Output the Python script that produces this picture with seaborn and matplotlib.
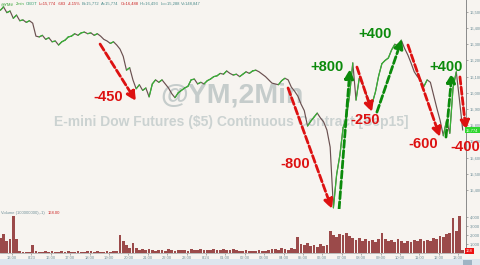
import numpy as np
import pandas as pd
import matplotlib
matplotlib.use("Agg")
import matplotlib.pyplot as plt
import seaborn as sns

# ---------------- data ----------------
start_hour = -0.6          # first bar, hours relative to the first "13:00" label
step_hour = 1 / 6          # 10-minute sampling of the 2-min chart

price = [16510, 16530, 16495, 16505, 16460, 16480, 16445, 16450, 16435, 16445,
         16430, 16350, 16345, 16355, 16330, 16340, 16315, 16320, 16295, 16315,
         16325, 16345, 16350, 16365, 16355, 16370, 16375, 16365, 16370, 16355,
         16365, 16350, 16330, 16320, 16305, 16315, 16295, 16270, 16225, 16140,
         16155, 16080, 16025, 16050, 16015, 16030, 15975, 16055, 16080, 16065,
         16080, 16055, 16030, 15995, 15970, 16000, 16015, 16030, 16040, 16080,
         16085, 16055, 16065, 16055, 16075, 16085, 16100, 16105, 16120, 16115,
         16135, 16120, 16110, 16115, 16100, 16115, 16130, 16120, 16135, 16140,
         16130, 16115, 16100, 16080, 16060, 16055, 16050, 16075, 16090, 16080,
         16035, 16010, 15980, 15930, 15890, 15795, 15825, 15850, 15875, 15845,
         15820, 15770, 15665, 15290, 15495, 15615, 15785, 15845, 15985, 16185,
         15955, 16090, 16055, 16000, 15955, 15935, 16005, 16105, 16180, 16200,
         16215, 16265, 16300, 16290, 16325, 16275, 16235, 16185, 16130, 16100,
         16080, 16040, 16080, 16065, 15985, 15905, 15830, 15735, 15830, 15750,
         16030, 16130, 15955, 15770]

volume = [1650, 2100, 1300, 1550, 4050, 1550, 200, 120, 100, 110,
          880, 220,
          150, 120, 180, 140, 200, 160, 130, 170, 150, 190, 120, 140, 250,
          160, 130, 180, 210, 150, 170, 140, 160, 200, 150, 180, 230,
          2000, 1300, 900, 550, 1100, 550, 330, 440, 300, 400,
          300, 250, 350, 280, 220, 400, 320, 260, 300, 350, 280, 250, 400,
          330, 300, 450, 380, 300, 350, 420, 300, 380, 450, 350, 300, 400, 320,
          250, 200, 300, 180, 220, 260, 300, 200, 250, 350,
          400, 450, 350, 500, 420, 380, 550, 480,
          1750, 1000, 880, 1100, 770, 880, 660, 1000, 770, 880,
          2400, 2000, 1750, 2100, 2000, 2200, 1850, 1650, 1450, 1650,
          1300, 1550, 1300, 1450, 1200, 1550, 2200, 1550, 1300, 1450,
          1200, 1550, 1300, 1100, 1300, 1200, 1450, 1300, 1550, 1300,
          1450, 1300, 1650, 1550, 1850, 1750, 2100, 2200, 3850, 2400,
          4050, 330]

time_labels = ["13:00", "8/23", "16:00", "17:00", "18:00", "19:00", "20:00",
               "21:00", "22:00", "23:00", "8/24", "01:00", "02:00", "03:00",
               "04:00", "05:00", "06:00", "07:00", "08:00", "09:00", "10:00",
               "11:00", "12:00", "13:00"]
price_ticks = [15400, 15500, 15600, 15700, 15800, 15900, 16000, 16100,
               16200, 16300, 16400, 16500]
volume_ticks = [1000, 2000, 3000, 4000]

# swing annotations: label, start (hour, price), end (hour, price), label pos
swing_labels = ["-450", "-800", "+800", "-250", "+400", "-600", "+400", "-400"]
swing_start = [(4.54, 16301), (14.23, 16030), (16.86, 15283), (17.78, 16159),
               (18.81, 15881), (20.41, 16295), (22.37, 15727), (23.09, 16098)]
swing_end = [(6.39, 15949), (16.49, 15283), (17.42, 16147), (18.56, 15881),
             (20.10, 16332), (22.06, 15727), (22.68, 16122), (23.40, 15770)]
swing_text = [(4.95, 15974), (14.59, 15560), (16.24, 16159), (18.20, 15832),
              (18.71, 16363), (21.19, 15684), (22.37, 16159), (23.35, 15665)]

header = [("@YM#", "#1f9a1f"), ("2min", "#2aa02a"), ("CBOT", "#2a9a6a"),
          ("L=15,774", "#cc2222"), ("-683", "#cc2222"), ("-4.15%", "#cc2222"),
          ("B=15,772", "#4a8a8a"), ("A=15,774", "#4a8a8a"), ("O=16,488", "#cc2222"),
          ("Hi=16,493", "#4a8a8a"), ("Lo=15,288", "#4a8a8a"), ("V=148,847", "#4a8a8a")]

# ---------------- style ----------------
sns.set_theme(style="white")
plt.rcParams["font.family"] = ["Liberation Sans", "DejaVu Sans"]

BG = "#f7f4f0"
UP = "#35b535"
DOWN = "#6a5050"
VOL = "#9b4a4a"
AXC = "#8a8a8a"
TICKC = "#6f8f99"

W, H = 480, 265
fig = plt.figure(figsize=(W / 100, H / 100), dpi=100, facecolor=BG)

def frac(x0, y0, x1, y1):
    return [x0 / W, 1 - y1 / H, (x1 - x0) / W, (y1 - y0) / H]

ax = fig.add_axes(frac(0, 0, 466, 209), facecolor=BG)
axv = fig.add_axes(frac(0, 209, 466, 253), facecolor=BG, sharex=ax)

n = len(price)
hours = start_hour + np.arange(n) * step_hour
df = pd.DataFrame({"hour": hours, "price": price, "volume": volume})

# price line: down colour base, green up-segments on top
sns.lineplot(data=df, x="hour", y="price", ax=ax, color=DOWN, lw=0.85, zorder=3)
for i in range(n - 1):
    if df.price[i + 1] > df.price[i]:
        ax.plot(df.hour[i:i + 2], df.price[i:i + 2], color=UP, lw=0.85, zorder=4)

ax.set_xlim(-12 / 19.4, (466 - 12) / 19.4)
ax.set_ylim(15283, 16573)

# watermark / title
ax.text(0.497, 0.541, "@YM,2Min", transform=ax.transAxes, ha="center", va="center",
        fontsize=20.5, fontweight="bold", color="#c5cccb", zorder=1)
ax.text(0.497, 0.416, "E-mini Dow Futures ($5) Continuous Contract [Sep15]",
        transform=ax.transAxes, ha="center", va="center", fontsize=10,
        fontweight="bold", color="#cbd2d1", zorder=1)

# swing arrows
for lab, s, e, t in zip(swing_labels, swing_start, swing_end, swing_text):
    c = "#0b8a0b" if lab.startswith("+") else "#dd1111"
    ax.annotate("", xy=e, xytext=s,
                arrowprops=dict(arrowstyle="-|>,head_length=0.45,head_width=0.22",
                                color=c, lw=2.0, linestyle=(0, (2.6, 1.1)),
                                shrinkA=0, shrinkB=0), zorder=6, annotation_clip=False)
    ax.text(t[0], t[1], lab, ha="center", va="center", fontsize=10.5,
            fontweight="bold", color=c, zorder=7, clip_on=False)

# price axis
ax.yaxis.tick_right()
ax.set_yticks(price_ticks)
ax.set_yticklabels([f"{v:,}" for v in price_ticks])
ax.tick_params(axis="y", right=True, length=1.5, width=0.5, color=AXC,
               labelsize=3.0, labelcolor=TICKC, pad=1.5)
ax.tick_params(axis="x", bottom=False, labelbottom=False)
ax.set_xlabel("")
ax.set_ylabel("")
for s in ["top", "left"]:
    ax.spines[s].set_visible(False)
ax.spines["right"].set_color(AXC)
ax.spines["right"].set_linewidth(0.7)
ax.spines["bottom"].set_color("#b0b0b0")
ax.spines["bottom"].set_linewidth(0.6)

# last price tag
ax.text(1.0, price[-1], f"{price[-1]+4:,}", transform=ax.get_yaxis_transform(),
        ha="left", va="center", fontsize=3.0, color="white", clip_on=False,
        bbox=dict(boxstyle="square,pad=0.3", fc="#2ed62e", ec="none"), zorder=8)

# volume panel
axv.bar(df.hour, df.volume, width=step_hour * 0.85, color=VOL, linewidth=0)
axv.set_ylim(0, 4840)
axv.yaxis.tick_right()
axv.set_yticks(volume_ticks)
axv.set_yticklabels([f"{v:,}" for v in volume_ticks])
axv.tick_params(axis="y", right=True, length=1.5, width=0.5, color=AXC,
                labelsize=3.0, labelcolor=TICKC, pad=1.5)
axv.set_xticks(range(len(time_labels)))
axv.set_xticklabels(time_labels)
axv.tick_params(axis="x", bottom=True, length=1.5, width=0.5, color=AXC,
                labelsize=3.0, labelcolor=TICKC, pad=1)
axv.set_xlabel("")
axv.set_ylabel("")
for s in ["top", "left"]:
    axv.spines[s].set_visible(False)
axv.spines["right"].set_color(AXC)
axv.spines["right"].set_linewidth(0.7)
axv.spines["bottom"].set_color("#b0b0b0")
axv.spines["bottom"].set_linewidth(0.6)
axv.text(1.0, 0, "168", transform=axv.get_yaxis_transform(), ha="left",
         va="bottom", fontsize=3.0, color="white", clip_on=False,
         bbox=dict(boxstyle="square,pad=0.3", fc="#ee1111", ec="none"))

renderer = fig.canvas.get_renderer()

def place_row(items, x0, y, gap, size, weight="normal"):
    x = x0
    for txt, col in items:
        t = fig.text(x / W, 1 - y / H, txt, fontsize=size, color=col, va="center",
                     ha="left", fontweight=weight)
        x += t.get_window_extent(renderer).width + gap

place_row([("Volume (100000000),-1)", TICKC), ("168.00", "#cc2222")],
          1, 213, 3, 3.0)

# header
place_row(header, 1, 4, 1.6, 3.0)

# bottom scroll band
fig.patches.append(plt.Rectangle((0, 0), 1, 6 / H, transform=fig.transFigure,
                                 fc="#dde6ee", ec="none"))
fig.patches.append(plt.Rectangle((463 / W, 0.5 / H), 9 / W, 5 / H,
                                 transform=fig.transFigure, fc="#9fb4c4", ec="none"))

fig.savefig("out.png", dpi=100, facecolor=BG)
